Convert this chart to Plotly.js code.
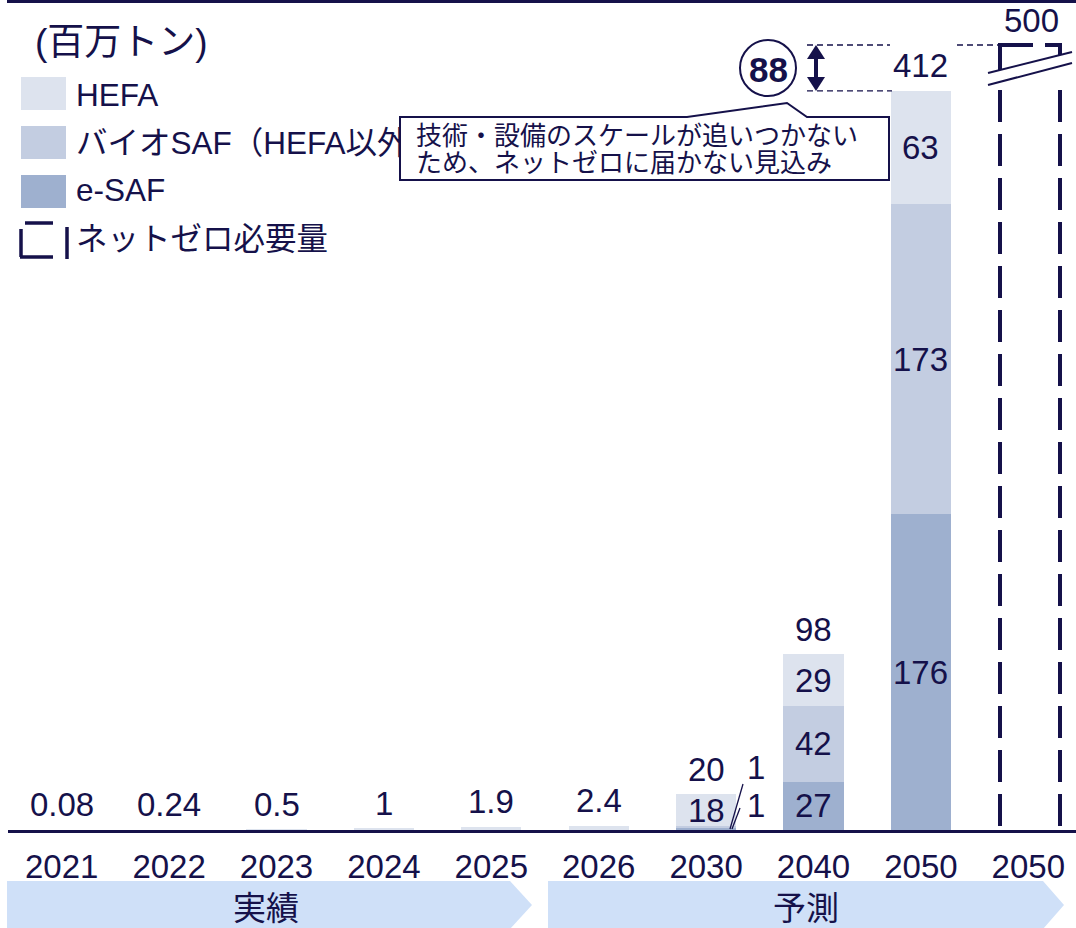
<!DOCTYPE html>
<html>
<head>
<meta charset="utf-8">
<script src="https://cdn.plot.ly/plotly-3.0.1.min.js"></script>
<style>
  html, body { margin: 0; padding: 0; background: #fff; }
  #chart { width: 1076px; height: 928px; }
</style>
</head>
<body>
<div id="chart"></div>
<script>
// data (百万トン)
const categories = ["2021", "2022", "2023", "2024", "2025", "2026", "2030", "2040", "2050", "2050"];
const hefa = [0.08, 0.24, 0.5, 1, 1.9, 2.4, 18, 29, 63, null];
const bioSaf = [0, 0, 0, 0, 0, 0, 1, 42, 173, null];
const eSaf = [0, 0, 0, 0, 0, 0, 1, 27, 176, null];
const totals = [0.08, 0.24, 0.5, 1, 1.9, 2.4, 20, 98, 412, null];
const netZero = 500; // last column
const seriesNames = ["HEFA", "バイオSAF（HEFA以外）", "e-SAF"];
const netZeroName = "ネットゼロ必要量";
const unitLabel = "(百万トン)";
const periods = ["実績", "予測"];
const note = ["技術・設備のスケールが追いつかない", "ため、ネットゼロに届かない見込み"];

const NAVY = "#15114a";
const COLORS = { hefa: "#dde3ee", bio: "#c3cde1", esaf: "#9eb0cf" };
const BAND = "#cfe0f8";
const FONT = "Liberation Sans, Arial, Noto Sans CJK JP, sans-serif";
const NUM = 33;

// plot area in pixels
const L = 8, PW = 1068, PH = 830;
const xr = [-0.5, 9.444];
const yr = [0, 462.7];
const xs = categories.map((_, i) => i);

// pixel -> paper / data helpers for decorations
const xp = (px) => (px - L) / PW;
const yp = (py) => (PH - py) / PH;
const px2x = (px) => xr[0] + ((px - L) / PW) * (xr[1] - xr[0]);
const py2y = (py) => yr[0] + ((PH - py) / PH) * (yr[1] - yr[0]);
const path = (pts, close) =>
  pts.map((p, i) => (i ? "L" : "M") + xp(p[0]) + "," + yp(p[1])).join(" ") + (close ? " Z" : "");

function bar(y, name, color) {
  return {
    type: "bar", x: xs, y: y, name: name, width: 0.56,
    marker: { color: color, line: { width: 0 } },
    hoverinfo: "skip",
  };
}

const legendRows = [98, 146, 193, 242];
const traces = [
  bar(eSaf, seriesNames[2], COLORS.esaf),
  bar(bioSaf, seriesNames[1], COLORS.bio),
  bar(hefa, seriesNames[0], COLORS.hefa),
  {
    type: "scatter", mode: "text", cliponaxis: false, hoverinfo: "skip",
    x: legendRows.map(() => px2x(76)),
    y: legendRows.map(py2y),
    text: [...seriesNames, netZeroName],
    textposition: "middle right",
    textfont: { size: 31.5, color: NAVY, family: FONT },
  },
];

const annotations = [];
const txt = (o) => Object.assign({
  showarrow: false, xanchor: "center", yanchor: "middle",
  font: { size: NUM, color: NAVY, family: FONT },
}, o);

// totals above bars
totals.forEach((t, i) => {
  if (t === null) return;
  annotations.push(txt({ x: i, y: t, yshift: 25, text: String(t) }));
});
// net zero value
annotations.push(txt({ x: px2x(1031), y: py2y(20), text: String(netZero) }));

// segment labels
for (let i = 6; i < categories.length; i++) {
  const segs = [eSaf[i], bioSaf[i], hefa[i]];
  let base = 0;
  segs.forEach((v, k) => {
    if (v === null) return;
    if (v >= 10) {
      annotations.push(txt({ x: i, y: base + v / 2, text: String(v) }));
    } else {
      // small segments labelled to the right
      annotations.push(txt({ x: i, y: base + v / 2, xshift: 50, yshift: k === 0 ? 24 : 60, text: String(v) }));
    }
    base += v;
  });
}

// gap to net zero
annotations.push(txt({ x: px2x(768), y: py2y(69), text: "<b>" + (netZero - totals[8]) + "</b>", font: { size: 35, color: NAVY, family: FONT } }));

// unit label
annotations.push(txt({ x: xp(33), y: yp(42), xref: "paper", yref: "paper", xanchor: "left", text: unitLabel, font: { size: 37, color: NAVY, family: FONT } }));

// callout text
note.forEach((line, k) => {
  annotations.push(txt({
    x: xp(414), y: yp(136 + k * 27), xref: "paper", yref: "paper", xanchor: "left",
    text: line, font: { size: 26, color: NAVY, family: FONT },
  }));
});

// period bands
annotations.push(txt({ x: xp(266), y: yp(908), xref: "paper", yref: "paper", text: periods[0] }));
annotations.push(txt({ x: xp(806), y: yp(908), xref: "paper", yref: "paper", text: periods[1] }));

const line = (x0, y0, x1, y1, w, dash) => ({
  type: "line", xref: "paper", yref: "paper", layer: "above",
  x0: xp(x0), y0: yp(y0), x1: xp(x1), y1: yp(y1),
  line: { color: NAVY, width: w, dash: dash || "solid" },
});
const poly = (pts, fill, lw) => ({
  type: "path", xref: "paper", yref: "paper", layer: "above",
  path: path(pts, true), fillcolor: fill, line: { color: NAVY, width: lw || 0 },
});

const topY = 45; // broken net-zero level (px)

const shapes = [
  // top rule
  line(7, 1.5, 1076, 1.5, 3),
  // legend swatches
  { type: "rect", xref: "paper", yref: "paper", x0: xp(21), x1: xp(66), y0: yp(77), y1: yp(110), fillcolor: COLORS.hefa, line: { width: 0 } },
  { type: "rect", xref: "paper", yref: "paper", x0: xp(21), x1: xp(66), y0: yp(126), y1: yp(159), fillcolor: COLORS.bio, line: { width: 0 } },
  { type: "rect", xref: "paper", yref: "paper", x0: xp(21), x1: xp(66), y0: yp(175), y1: yp(208), fillcolor: COLORS.esaf, line: { width: 0 } },
  // legend net-zero icon
  line(25, 223, 53, 223, 3.5),
  line(21, 229, 21, 257, 3.5),
  line(20, 257, 53, 257, 3.5),
  line(67, 227, 67, 259, 3.5),
  // callout box with tail
  poly([[400, 117], [687, 117], [787, 103], [807, 117], [889, 117], [889, 180], [400, 180]], "#ffffff", 2),
  // circle
  { type: "circle", xref: "paper", yref: "paper", layer: "above", x0: xp(740), x1: xp(796), y0: yp(96), y1: yp(40), fillcolor: "#ffffff", line: { color: NAVY, width: 2 } },
  // double arrow
  line(816, 55, 816, 81, 4),
  poly([[807, 59], [825, 59], [816, 45]], NAVY, 0),
  poly([[807, 77], [825, 77], [816, 91]], NAVY, 0),
  // dashed guide lines
  line(807, topY, 890, topY, 1.3, "6px,4px"),
  line(957, topY, 998, topY, 1.3, "6px,4px"),
  { type: "line", xref: "paper", yref: "y", x0: xp(807), x1: xp(892), y0: totals[8], y1: totals[8], line: { color: NAVY, width: 1.3, dash: "6px,4px" } },
  // net-zero bracket (axis broken)
  line(1000, topY, 1000, 71, 4),
  line(1060, topY, 1060, 66, 4),
  line(998, topY, 1033, topY, 4),
  line(1045, topY, 1062, topY, 4),
  poly([[988, 73], [1072, 52], [1072, 63], [988, 85]], "#ffffff", 0),
  line(988, 73, 1072, 52, 2),
  line(988, 85, 1072, 63, 2),
  { type: "line", xref: "paper", yref: "y", x0: xp(1000), x1: xp(1000), y0: py2y(90), y1: 0, line: { color: NAVY, width: 4, dash: "32px,12px" } },
  { type: "line", xref: "paper", yref: "y", x0: xp(1060), x1: xp(1060), y0: py2y(90), y1: 0, line: { color: NAVY, width: 4, dash: "32px,12px" } },
  // leader lines for 2030 small segments
  line(730, 829, 743, 784, 1.3),
  line(732, 829, 740, 808, 1.3),
  // period bands
  poly([[7, 881], [510, 881], [532, 905], [510, 929], [7, 929]], BAND, 0),
  poly([[548, 881], [1043, 881], [1064, 905], [1043, 929], [548, 929]], BAND, 0),
];

Plotly.newPlot(
  "chart",
  traces,
  {
    width: 1076,
    height: 928,
    margin: { l: L, r: 0, t: 0, b: 98, pad: 0 },
    paper_bgcolor: "#ffffff",
    plot_bgcolor: "#ffffff",
    barmode: "stack",
    showlegend: false,
    hovermode: false,
    font: { family: FONT, color: NAVY, size: NUM },
    xaxis: {
      range: xr,
      tickvals: xs,
      ticktext: categories,
      tickfont: { size: NUM, color: NAVY, family: FONT },
      ticks: "",
      showgrid: false,
      zeroline: false,
      showline: true,
      linecolor: NAVY,
      linewidth: 3,
      ticklabelstandoff: 5,
      fixedrange: true,
    },
    yaxis: {
      range: yr,
      visible: false,
      showgrid: false,
      zeroline: false,
      fixedrange: true,
    },
    shapes: shapes,
    annotations: annotations,
  },
  { staticPlot: true, displayModeBar: false }
);
</script>
</body>
</html>
